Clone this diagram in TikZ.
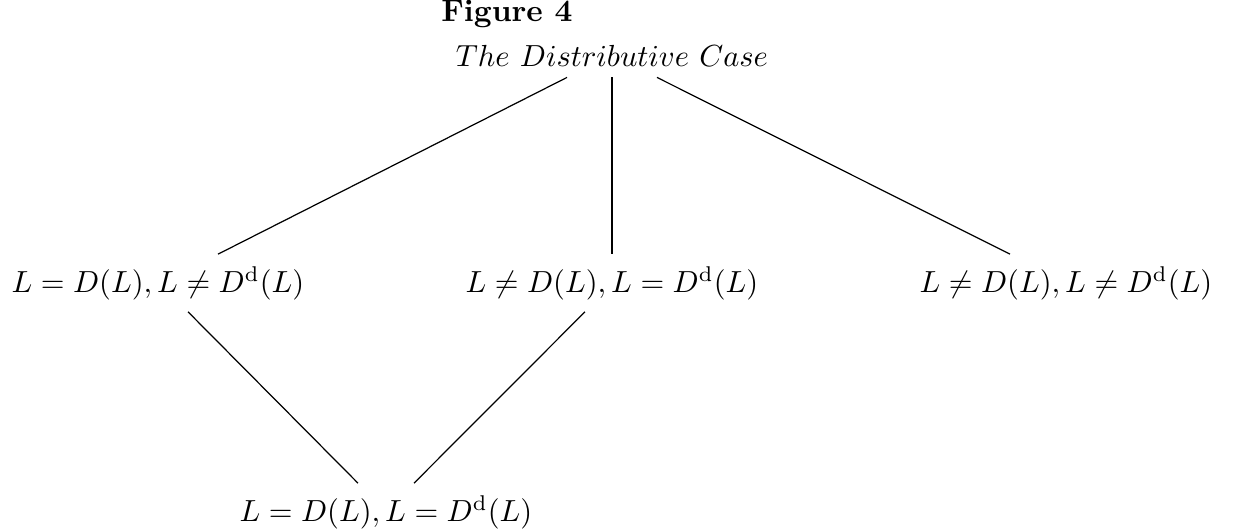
\documentclass[tikz,border=0pt]{standalone}
\usepackage{amsmath}
\usepackage{amssymb}
\usepackage{tikz}
\usetikzlibrary{positioning,calc}

\begin{document}
\begin{tikzpicture}[x=0.01152cm, y=-0.01152cm, font=\fontsize{10.2}{12}\selectfont,
  case/.style={inner sep=0pt, minimum height=0.65cm}]
  \useasboundingbox (0,0) rectangle (1233,529);
  % heading
  \node[anchor=base, inner sep=0pt] (fig) at (507,22) {\textbf{Figure 4}};
  \node[inner sep=0pt, minimum height=0.48cm] (dist) at (612,56) {$The\ Distributive\ Case$};
  % the cases
  \node[case] (ldl) at (158,283) {$L=D(L), L\neq D^{\mathrm{d}}(L)$};
  \node[case] (ldd) at (612,283) {$L\neq D(L), L=D^{\mathrm{d}}(L)$};
  \node[case] (lnn) at (1066,283) {$L\neq D(L), L\neq D^{\mathrm{d}}(L)$};
  \node[case] (both) at (386,512) {$L=D(L), L=D^{\mathrm{d}}(L)$};
  % lines
  \draw ($(dist.south)+(-45,0)$) -- ($(ldl.north)+(60,0)$);
  \draw (dist.south) -- (ldd.north);
  \draw ($(dist.south)+(45,0)$) -- ($(lnn.north)+(-56,0)$);
  \draw ($(ldl.south)+(30,0)$) -- ($(both.north)+(-28,0)$);
  \draw ($(ldd.south)+(-27,0)$) -- ($(both.north)+(28,0)$);
\end{tikzpicture}
\end{document}
